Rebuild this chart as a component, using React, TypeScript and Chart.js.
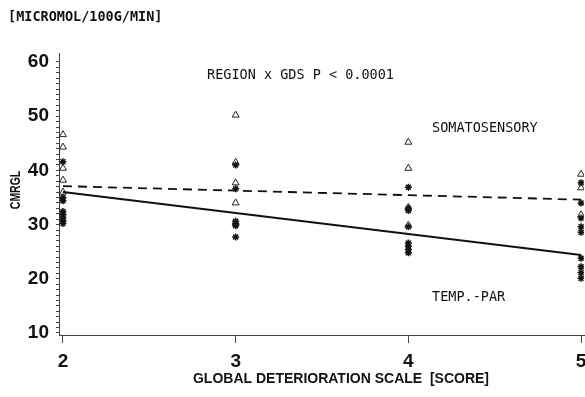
import React, { useEffect, useRef } from "react";
import { Chart, registerables } from "chart.js";

Chart.register(...registerables);

// ---- data ----
const gdsScores = [2, 3, 4, 5];
const somatoValues = [
  [46.6, 44.3, 40.4, 38.2, 36.0],
  [50.2, 41.5, 37.7, 34.0, 30.4],
  [45.2, 40.4, 33.2, 29.9],
  [39.3, 36.8, 31.8],
];
const tempParValues = [
  [41.6, 35.0, 34.4, 32.4, 31.8, 31.2, 30.6, 30.2],
  [41.0, 36.6, 30.6, 30.2, 29.8, 27.7],
  [36.9, 33.0, 32.6, 29.6, 26.6, 26.0, 25.4, 24.8],
  [37.7, 34.0, 31.2, 29.6, 28.6, 23.8, 22.2, 21.1, 20.1],
];
const fitX = [2, 5];
const somatoFit = [37.1, 34.6];
const tempParFit = [36.0, 24.4];
const xTicks = [2, 3, 4, 5];
const yMajorTicks = [10, 20, 30, 40, 50, 60];
const unitLabel = "[MICROMOL/100G/MIN]";
const xTitle = "GLOBAL DETERIORATION SCALE  [SCORE]";
const yTitle = "CMRGL";
const noteTexts = ["REGION x GDS P < 0.0001", "SOMATOSENSORY", "TEMP.-PAR"];

// ---- layout ----
const notePos = [
  { x: 2.834, y: 57.6 },
  { x: 4.137, y: 47.8 },
  { x: 4.137, y: 16.46 },
];
const X_MIN = 1.977;
const X_MAX = 5.017;
const Y_MIN = 9.63;
const Y_MAX = 61.66;

const toPoints = (groups: number[][]) =>
  groups.flatMap((vals, i) => vals.map((v) => ({ x: gdsScores[i], y: v })));

const textPlugin = {
  id: "texts",
  afterDraw(chart: any) {
    const ctx = chart.ctx;
    const xs = chart.scales.x;
    const ys = chart.scales.y;
    ctx.save();
    ctx.fillStyle = "#111";
    ctx.textBaseline = "middle";
    ctx.textAlign = "left";
    ctx.font = "bold 13.5px 'DejaVu Sans Mono'";
    ctx.fillText(unitLabel, 8, 17);
    ctx.font = "13.5px 'DejaVu Sans Mono'";
    noteTexts.forEach((t, i) => {
      ctx.fillText(t, xs.getPixelForValue(notePos[i].x), ys.getPixelForValue(notePos[i].y));
    });
    ctx.textAlign = "center";
    ctx.font = "bold 14px 'Liberation Sans'";
    ctx.fillText(xTitle, 341, 379);
    ctx.translate(16, 190);
    ctx.rotate(-Math.PI / 2);
    ctx.scale(0.72, 1);
    ctx.font = "bold 14.5px 'Liberation Sans'";
    ctx.fillText(yTitle, 0, 0);
    ctx.restore();
  },
};

export default function App() {
  const ref = useRef<HTMLCanvasElement>(null);
  useEffect(() => {
    if (!ref.current) return;
    const chart = new Chart(ref.current, {
      type: "scatter",
      data: {
        datasets: [
          {
            label: "Somatosensory fit",
            type: "line",
            data: fitX.map((x, i) => ({ x, y: somatoFit[i] })),
            borderColor: "#111",
            borderWidth: 1.8,
            borderDash: [9, 6],
            pointRadius: 0,
            fill: false,
          },
          {
            label: "Temp-Par fit",
            type: "line",
            data: fitX.map((x, i) => ({ x, y: tempParFit[i] })),
            borderColor: "#111",
            borderWidth: 2,
            pointRadius: 0,
            fill: false,
          },
          {
            label: "Somatosensory",
            data: toPoints(somatoValues),
            pointStyle: "triangle",
            pointRadius: 4,
            borderColor: "#222",
            backgroundColor: "rgba(255,255,255,0)",
            borderWidth: 1,
          },
          {
            label: "Temp-Par",
            data: toPoints(tempParValues),
            pointStyle: "star",
            pointRadius: 3.5,
            borderColor: "#111",
            backgroundColor: "#111",
            borderWidth: 1.5,
          },
        ],
      },
      options: {
        animation: false,
        responsive: false,
        maintainAspectRatio: false,
        layout: { autoPadding: false, padding: { top: 53, right: 1, left: 0, bottom: 0 } },
        plugins: {
          legend: { display: false },
          tooltip: { enabled: false },
          title: { display: false },
        },
        scales: {
          x: {
            type: "linear",
            min: X_MIN,
            max: X_MAX,
            afterBuildTicks: (s: any) => {
              s.ticks = xTicks.map((v) => ({ value: v }));
            },
            afterFit: (s: any) => {
              s.height = 62;
              s.paddingLeft = 0;
              s.paddingRight = 0;
            },
            border: { display: true, color: "#444", width: 1 },
            grid: { drawOnChartArea: false, drawTicks: true, tickLength: 8, color: "#444" },
            ticks: {
              autoSkip: false,
              maxRotation: 0,
              padding: 7,
              color: "#111",
              font: { family: "'Liberation Sans'", size: 19, weight: "bold" },
              callback: (v: any) => String(v),
            },
          },
          y: {
            type: "linear",
            min: Y_MIN,
            max: Y_MAX,
            afterBuildTicks: (s: any) => {
              const t: any[] = [];
              for (let v = yMajorTicks[0]; v <= yMajorTicks[yMajorTicks.length - 1]; v++) t.push({ value: v });
              s.ticks = t;
            },
            afterFit: (s: any) => {
              s.width = 59;
              s.paddingTop = 0;
              s.paddingBottom = 0;
            },
            border: { display: true, color: "#444", width: 1 },
            grid: { drawOnChartArea: false, drawTicks: true, tickLength: 3, color: "#444" },
            ticks: {
              autoSkip: false,
              padding: 7,
              color: "#111",
              font: { family: "'Liberation Sans'", size: 19, weight: "bold" },
              callback: (v: any) => (yMajorTicks.includes(Number(v)) ? String(v) : ""),
            },
          },
        },
      },
      plugins: [textPlugin],
    } as any);
    return () => chart.destroy();
  }, []);
  return (
    <div style={{ position: "fixed", left: 0, top: 0, width: 585, height: 397, background: "#fff" }}>
      <canvas ref={ref} width={585} height={397} style={{ width: 585, height: 397 }} />
    </div>
  );
}
